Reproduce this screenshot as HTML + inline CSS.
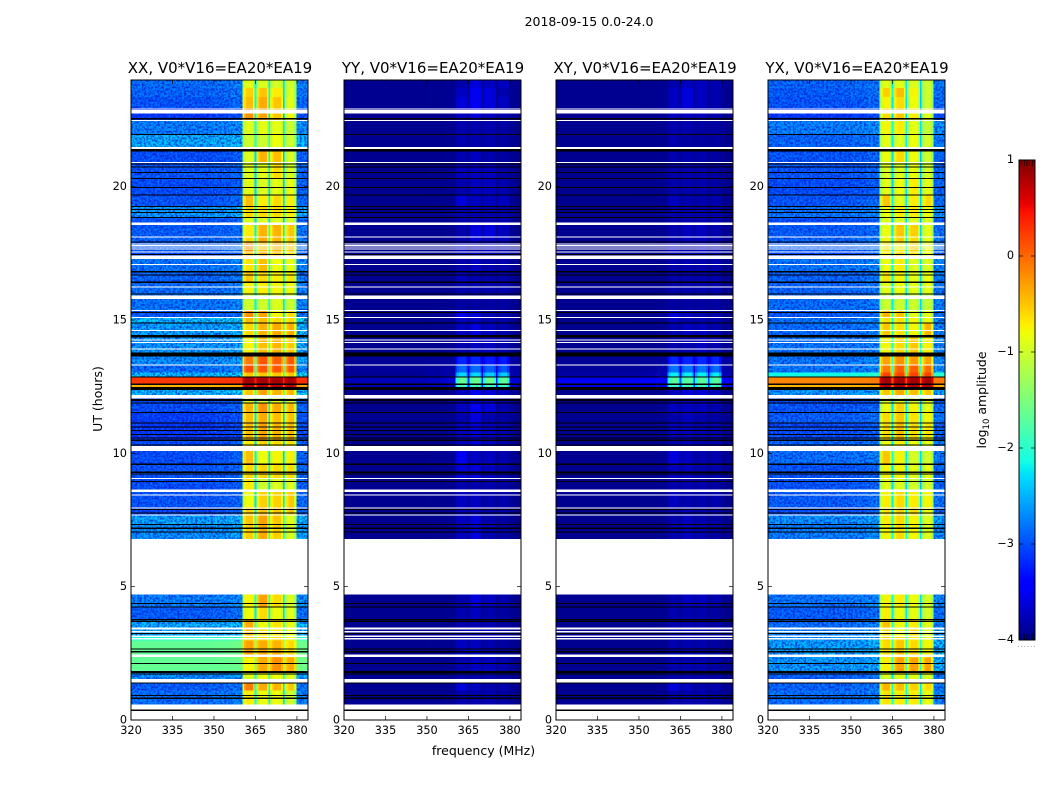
<!DOCTYPE html>
<html lang="en">
<head>
<meta charset="utf-8">
<title>2018-09-15 0.0-24.0</title>
<style>
html,body{margin:0;padding:0;background:#fff;}
svg{display:block;}
text{font-family:"DejaVu Sans","Liberation Sans",sans-serif;fill:#000;}
.tk{font-size:11.3px;}
.ttl{font-size:15px;text-anchor:middle;}
.lbl{font-size:12.5px;text-anchor:middle;}
</style>
</head>
<body>
<svg id="chart" xmlns="http://www.w3.org/2000/svg" width="1050" height="800" viewBox="0 0 1050 800">
<defs>
<filter id="grainLight" x="0" y="0" width="1" height="1" color-interpolation-filters="sRGB">
<feTurbulence type="fractalNoise" baseFrequency="0.42" numOctaves="2" seed="3"/>
<feColorMatrix values="0 0 0 0 0  0 0 0 0 .68  0 0 0 0 1  3 0 0 0 -1.4"/>
</filter>
<filter id="grainDark" x="0" y="0" width="1" height="1" color-interpolation-filters="sRGB">
<feTurbulence type="fractalNoise" baseFrequency="0.45" numOctaves="2" seed="11"/>
<feColorMatrix values="0 0 0 0 0  0 0 0 0 .06  0 0 0 0 .82  3 0 0 0 -1.15"/>
</filter>
<clipPath id="grainClip0"></clipPath>
<clipPath id="grainClip3"></clipPath>
</defs>
<text class="lbl" x="589" y="26">2018-09-15 0.0-24.0</text>
<text class="lbl" transform="translate(102,399) rotate(-90)">UT (hours)</text>
<text class="lbl" x="483.5" y="755">frequency (MHz)</text>
<text class="lbl" transform="translate(986,400) rotate(-90)">log<tspan font-size="8.5" dy="3">10</tspan><tspan dy="-3"> amplitude</tspan></text>
<g id="panels"></g>
<g id="colorbar"></g>
</svg>
<script>
// Time bands (UT hours, descending); band i spans bandEdges[i]..bandEdges[i+1]
const bandEdges = [24,23.70,23.36,22.95,22.57,22.46,21.97,21.49,20.89,20.32,19.68,19.23,18.86,18.56,18.11,17.92,17.55,17.28,16.80,16.43,15.97,15.37,15.07,14.88,14.39,13.79,13.31,13.04,12.86,12.59,12.48,12.18,11.88,11.54,11.13,10.49,10.08,9.59,9.07,8.65,7.98,7.68,7.34,6.78,4.71,4.23,3.74,3.47,3.17,2.99,2.35,1.79,1.41,1.11,0.59,0.02,0];

// Frequency channels (MHz); channel j spans freqEdges[j]..freqEdges[j+1]
const freqEdges = [320,350,356,360.3,360.9,361.5,364.2,364.7,365.3,365.8,366.5,369.2,369.8,370.3,370.9,371.5,374.2,374.9,375.5,376.2,376.9,379,379.9,384];
const channelBlock = [0,0,0,0,0,0,0,0,1,1,1,1,2,2,2,2,2,3,3,3,3,3,3];
const channelWeight = [0,.02,.05,.75,.92,1,.85,.3,.8,.93,1,.85,.3,.8,.93,1,.85,.25,.8,.93,1,.8,.06];

// log10 amplitude per band: [off-band background, block 1, block 2, block 3, block 4]
const xxLevels = [
[-2.75,-.85,-.9,-.95,-.95],[-2.8,-.55,-.5,-.7,-.9],[-2.9,-.45,-.35,-.5,-.85],[-3.1,-.2,-.3,-.5,-.75],[-3.1,-.2,-.3,-.5,-.75],
[-2.65,-.9,-.85,-.85,-1],[-2.4,-1,-1,-.8,-1],[-2.95,-.9,-.4,-.45,-.9],[-2.9,-.9,-.85,-.6,-.9],[-2.95,-.85,-.9,-.85,-.8],
[-2.9,-.45,-.7,-.6,-.7],[-2.5,-.6,-.6,-.6,-.7],[-2.9,-.9,-.9,-.9,-.9],[-2.85,-.7,-.4,-.4,-.5],[-2.8,-.6,-.35,-.4,-.5],
[-2.85,-.25,-.5,-.4,-.5],[-3,-.5,-.35,-.5,-.6],[-2.7,-.65,-.45,-.8,-.8],[-2.8,-.5,-.6,-.7,-.65],[-2.75,-.75,-.7,-.75,-.75],
[-2.7,-1,-1,-.9,-1],[-2.85,-.2,-.3,-.75,-.6],[-2.3,-.45,-.45,-.6,-.6],[-2.45,-.6,-.4,-.35,-.35],[-2.5,-.75,-.45,-.4,-.5],
[-2.55,-.1,.1,.05,.1],[-2.75,.15,.1,.1,.1],[-2.3,-.5,-.5,-.5,-.5],[.25,.85,.85,.85,.85],[-.4,.75,.75,.75,.75],
[-2.35,-.5,-.3,-.4,-.4],[-3,-.9,-.9,-.9,-.9],[-2.95,-.4,-.2,-.35,-.4],[-3.05,-.45,-.35,-.45,-.45],[-3.1,-.45,-.3,-.4,-.4],
[-2.95,-.7,-.55,-.6,-.6],[-2.95,-.45,-.8,-.75,-.7],[-2.9,-.6,-.55,-.6,-.6],[-2.95,-.7,-1,-.9,-.85],[-2.9,-.8,-.55,-.55,-.5],
[-3,-.55,-.45,-.5,-.45],[-2.45,-.5,-.3,-.5,-.85],[-2.55,-.55,-.35,-.55,-.9],null,[-2.65,-.75,-.3,-.6,-.9],
[-2.85,-.8,-.6,-.8,-.85],[-2.4,-.35,-.8,-.65,-.8],[-2.4,-.4,-.6,-.7,-.8],[-2.05,-.6,-.6,-.6,-.8],[-1.65,-.3,-.35,-.4,-.6],
[-1.65,-.75,-.35,-.2,-.35],[-2.55,-.9,-.8,-.8,-.85],[-2.85,-.1,-.35,-.4,-.5],[-2.75,-.7,-.8,-.8,-.95],null,[-2.9,-2.9,-2.9,-2.9,-2.9]
];
const yyLevels = [
[-3.93,-3.8,-3.6,-3.72,-3.72],[-3.93,-3.72,-3.5,-3.6,-3.8],[-3.93,-3.6,-3.5,-3.6,-3.72],[-3.93,-3.72,-3.6,-3.72,-3.8],[-3.93,-3.72,-3.6,-3.72,-3.8],
[-3.93,-3.8,-3.8,-3.8,-3.85],[-3.93,-3.8,-3.8,-3.8,-3.85],[-3.93,-3.8,-3.72,-3.8,-3.85],[-3.93,-3.72,-3.72,-3.72,-3.85],[-3.93,-3.8,-3.72,-3.72,-3.8],
[-3.93,-3.6,-3.72,-3.72,-3.72],[-3.93,-3.8,-3.8,-3.8,-3.8],[-3.93,-3.8,-3.8,-3.8,-3.8],[-3.93,-3.8,-3.6,-3.6,-3.72],[-3.93,-3.8,-3.6,-3.72,-3.72],
[-3.93,-3.72,-3.8,-3.72,-3.8],[-3.93,-3.8,-3.72,-3.8,-3.8],[-3.93,-3.8,-3.72,-3.8,-3.8],[-3.93,-3.72,-3.8,-3.8,-3.8],[-3.93,-3.8,-3.8,-3.8,-3.8],
[-3.93,-3.85,-3.85,-3.85,-3.85],[-3.93,-3.5,-3.6,-3.8,-3.8],[-3.93,-3.72,-3.72,-3.8,-3.8],[-3.93,-3.72,-3.6,-3.72,-3.8],[-3.93,-3.8,-3.72,-3.72,-3.8],
[-3.9,-3.2,-3.2,-3.25,-3.25],[-3.88,-2.85,-2.85,-2.9,-2.95],[-3.9,-2.3,-2.3,-2.35,-2.35],[-3.75,-1.6,-1.6,-1.6,-1.65],[-3.8,-1.85,-1.85,-1.85,-1.85],
[-3.93,-3.72,-3.5,-3.6,-3.72],[-3.93,-3.8,-3.6,-3.72,-3.8],[-3.93,-3.72,-3.5,-3.6,-3.8],[-3.93,-3.8,-3.6,-3.8,-3.85],[-3.93,-3.72,-3.6,-3.72,-3.8],
[-3.93,-3.72,-3.6,-3.72,-3.8],[-3.93,-3.5,-3.72,-3.72,-3.8],[-3.93,-3.6,-3.6,-3.72,-3.8],[-3.93,-3.8,-3.8,-3.8,-3.85],[-3.93,-3.72,-3.72,-3.8,-3.8],
[-3.93,-3.72,-3.72,-3.8,-3.8],[-3.93,-3.72,-3.6,-3.8,-3.85],[-3.93,-3.72,-3.6,-3.8,-3.85],null,[-3.93,-3.8,-3.6,-3.72,-3.8],
[-3.93,-3.8,-3.72,-3.8,-3.85],[-3.93,-3.8,-3.8,-3.8,-3.85],[-3.93,-3.8,-3.8,-3.8,-3.85],[-3.93,-3.8,-3.8,-3.8,-3.85],[-3.93,-3.72,-3.72,-3.8,-3.85],
[-3.93,-3.8,-3.72,-3.72,-3.8],[-3.93,-3.8,-3.8,-3.8,-3.85],[-3.93,-3.6,-3.72,-3.8,-3.8],[-3.93,-3.8,-3.8,-3.8,-3.85],null,[-3.93,-3.93,-3.93,-3.93,-3.93]
];
const xyLevels = [
[-3.93,-3.8,-3.72,-3.72,-3.8],[-3.93,-3.72,-3.6,-3.72,-3.8],[-3.93,-3.72,-3.6,-3.72,-3.8],[-3.93,-3.72,-3.72,-3.72,-3.8],[-3.93,-3.72,-3.72,-3.72,-3.8],
[-3.93,-3.8,-3.8,-3.85,-3.85],[-3.93,-3.8,-3.85,-3.85,-3.85],[-3.93,-3.8,-3.8,-3.8,-3.85],[-3.93,-3.8,-3.8,-3.8,-3.85],[-3.93,-3.8,-3.8,-3.8,-3.85],
[-3.93,-3.72,-3.8,-3.8,-3.8],[-3.93,-3.8,-3.8,-3.8,-3.8],[-3.93,-3.8,-3.8,-3.8,-3.8],[-3.93,-3.8,-3.72,-3.72,-3.8],[-3.93,-3.8,-3.72,-3.72,-3.8],
[-3.93,-3.72,-3.8,-3.72,-3.8],[-3.93,-3.8,-3.72,-3.8,-3.8],[-3.93,-3.8,-3.8,-3.8,-3.8],[-3.93,-3.8,-3.8,-3.8,-3.8],[-3.93,-3.8,-3.8,-3.8,-3.8],
[-3.93,-3.85,-3.85,-3.85,-3.85],[-3.93,-3.6,-3.72,-3.8,-3.8],[-3.93,-3.72,-3.8,-3.8,-3.8],[-3.93,-3.8,-3.72,-3.72,-3.8],[-3.93,-3.8,-3.8,-3.72,-3.8],
[-3.9,-3.2,-3.2,-3.2,-3.2],[-3.88,-2.8,-2.8,-2.8,-2.85],[-3.85,-2.2,-2.2,-2.2,-2.2],[-3.5,-1.7,-1.7,-1.7,-1.7],[-3.6,-1.85,-1.85,-1.85,-1.85],
[-3.93,-3.72,-3.6,-3.6,-3.72],[-3.93,-3.8,-3.72,-3.72,-3.8],[-3.93,-3.72,-3.72,-3.72,-3.8],[-3.93,-3.8,-3.72,-3.8,-3.85],[-3.93,-3.72,-3.72,-3.8,-3.8],
[-3.93,-3.8,-3.72,-3.8,-3.8],[-3.93,-3.6,-3.72,-3.8,-3.8],[-3.93,-3.72,-3.72,-3.8,-3.8],[-3.93,-3.8,-3.8,-3.8,-3.85],[-3.93,-3.72,-3.8,-3.8,-3.8],
[-3.93,-3.8,-3.72,-3.8,-3.8],[-3.93,-3.8,-3.72,-3.8,-3.85],[-3.93,-3.8,-3.72,-3.8,-3.85],null,[-3.93,-3.8,-3.72,-3.72,-3.8],
[-3.93,-3.8,-3.8,-3.8,-3.85],[-3.93,-3.8,-3.8,-3.8,-3.85],[-3.93,-3.8,-3.8,-3.8,-3.85],[-3.93,-3.8,-3.8,-3.8,-3.85],[-3.93,-3.8,-3.8,-3.8,-3.85],
[-3.93,-3.8,-3.8,-3.8,-3.85],[-3.93,-3.8,-3.8,-3.8,-3.85],[-3.93,-3.6,-3.72,-3.8,-3.8],[-3.93,-3.8,-3.8,-3.8,-3.85],null,[-3.93,-3.93,-3.93,-3.93,-3.93]
];
const yxLevels = [
[-2.8,-.85,-.85,-.9,-1],[-2.85,-.55,-.45,-.75,-1],[-2.9,-.75,-.6,-.8,-1],[-3.1,-.6,-.5,-.7,-.9],[-3.1,-.6,-.5,-.7,-.9],
[-2.65,-.75,-.7,-.85,-1.05],[-2.8,-.85,-.9,-.8,-.95],[-2.9,-.8,-.6,-.8,-1],[-2.9,-.9,-.9,-.8,-.95],[-2.95,-.85,-.8,-.7,-.85],
[-2.9,-.5,-.85,-.7,-.6],[-2.7,-.8,-.7,-.7,-.8],[-2.95,-.9,-.9,-.9,-.9],[-2.85,-.8,-.5,-.55,-.85],[-2.8,-.75,-.55,-.6,-.85],
[-2.85,-.65,-.7,-.55,-.8],[-3,-.7,-.55,-.7,-.8],[-2.7,-.8,-.7,-.9,-.9],[-2.8,-.65,-.75,-.85,-.8],[-2.8,-.85,-.8,-.85,-.85],
[-2.75,-1,-1,-1,-1.05],[-2.85,-.4,-.5,-.85,-.85],[-2.7,-.65,-.65,-.75,-.8],[-2.75,-.5,-.65,-.75,-.4],[-2.7,-.75,-.6,-.5,-.7],
[-2.7,-.3,-.2,-.25,-.3],[-2.7,-.1,.05,.05,0],[-2.15,.2,.2,.2,.2],[-.15,.85,.85,.85,.85],[-.4,.8,.8,.8,.8],
[-2.5,-.5,-.35,-.45,-.5],[-3,-.9,-.9,-.9,-.9],[-2.9,-.8,-.55,-.75,-.85],[-2.85,-.6,-.5,-.65,-.75],[-2.95,-.6,-.45,-.6,-.65],
[-2.8,-.8,-.7,-.8,-.85],[-2.75,-.5,-.75,-.95,-.95],[-2.9,-.75,-.75,-.85,-.85],[-2.9,-.85,-.9,-.95,-.95],[-2.85,-.7,-.6,-.7,-.75],
[-2.95,-.65,-.55,-.6,-.8],[-2.55,-.7,-.6,-.75,-.9],[-2.65,-.75,-.6,-.75,-.9],null,[-2.7,-.75,-.7,-.8,-.95],
[-2.85,-.7,-.8,-.85,-.95],[-2.75,-.45,-.8,-.7,-.85],[-2.6,-.6,-.8,-.6,-.9],[-2.5,-.5,-.6,-.7,-.8],[-2.45,-.6,-.5,-.6,-.75],
[-2.5,-.7,-.3,-.3,-.3],[-2.8,-.9,-.85,-.85,-.9],[-2.8,-.4,-.45,-.55,-.6],[-2.75,-.65,-.7,-.7,-.8],null,[-3,-3,-3,-3,-3]
];

// Flagged time ranges, [start hour, end hour]
const whiteGaps = [[22.93,22.90],[22.87,22.75],[22.50,22.46],[21.49,21.42],[20.92,20.89],[18.65,18.56],[18.13,18.10],[17.87,17.84],[17.81,17.77],[17.75,17.71],[17.69,17.65],[17.57,17.53],[17.41,17.29],[17.10,17.06],[16.25,16.21],[15.91,15.79],[15.38,15.34],[15.11,15.07],[14.63,14.59],[14.27,14.23],[14.17,14.13],[13.94,13.91],[13.34,13.31],[12.18,12.06],[10.28,10.09],[9.07,9.03],[8.64,8.55],[8.46,8.42],[7.97,7.93],[7.71,7.68],[6.78,4.71],[3.46,3.39],[3.34,3.28],[3.17,3.11],[3.07,3.02],[2.45,2.36],[1.53,1.41],[0.59,0.39],[0.33,0.02]];
const blackGaps = [[22.58,22.52],[21.97,21.94],[21.42,21.31],[20.86,20.83],[20.75,20.72],[20.55,20.51],[20.32,20.28],[19.99,19.95],[19.70,19.67],[19.27,19.24],[19.17,19.13],[19.05,19.01],[18.87,18.83],[17.95,17.91],[17.48,17.43],[16.83,16.79],[16.70,16.66],[16.44,16.38],[16.00,15.96],[15.30,15.26],[14.91,14.87],[14.43,14.35],[13.79,13.64],[12.88,12.85],[12.61,12.57],[12.48,12.37],[12.03,11.97],[11.91,11.87],[11.55,11.51],[11.16,11.12],[11.01,10.97],[10.88,10.85],[10.73,10.70],[10.60,10.57],[10.51,10.47],[10.33,10.30],[9.61,9.57],[9.31,9.27],[9.25,9.22],[8.97,8.93],[7.91,7.87],[7.78,7.74],[7.35,7.31],[7.21,7.17],[7.07,7.03],[4.38,4.35],[4.25,4.22],[3.78,3.74],[3.72,3.68],[3.26,3.22],[2.69,2.66],[2.58,2.54],[2.14,2.10],[1.83,1.76],[1.75,1.71],[1.41,1.37],[0.94,0.90],[0.84,0.78],[0.39,0.33]];

// Axis ticks and labels
const xTicks = [320,335,350,365,380];
const yTicks = [0,5,10,15,20];
const colorbarTicks = [1,0,-1,-2,-3,-4];
const panelTitles = ["XX, V0*V16=EA20*EA19","YY, V0*V16=EA20*EA19","XY, V0*V16=EA20*EA19","YX, V0*V16=EA20*EA19"];
const panelNames = ["xx","yy","xy","yx"];
const panelLevels = [xxLevels,yyLevels,xyLevels,yxLevels];

const NS = "http://www.w3.org/2000/svg";
const panelLeft = [131,344,556,768];
const panelW = 177, panelTop = 80, panelBottom = 720;
const fMin = 320, fMax = 384, hMin = 0, hMax = 24;
const vMin = -4, vMax = 1;

function xScale(f, left){ return left + (f - fMin) / (fMax - fMin) * panelW; }
function yScale(h){ return panelBottom - (h - hMin) / (hMax - hMin) * (panelBottom - panelTop); }
function seg(t, pts){
  for (let i = 1; i < pts.length; i++) {
    if (t <= pts[i][0]) {
      const a = pts[i-1], b = pts[i];
      return a[1] + (b[1]-a[1]) * (t-a[0]) / (b[0]-a[0]);
    }
  }
  return pts[pts.length-1][1];
}
function jet(v){
  const t = Math.max(0, Math.min(1, (v - vMin) / (vMax - vMin)));
  const r = seg(t, [[0,0],[.35,0],[.66,1],[.89,1],[1,.5]]);
  const g = seg(t, [[0,0],[.125,0],[.375,1],[.64,1],[.91,0],[1,0]]);
  const b = seg(t, [[0,.5],[.11,1],[.34,1],[.65,0],[1,0]]);
  return "rgb(" + Math.round(r*255) + "," + Math.round(g*255) + "," + Math.round(b*255) + ")";
}
function shape(tag, parent, attrs){
  const el = document.createElementNS(NS, tag);
  for (const k in attrs) el.setAttribute(k, attrs[k]);
  parent.appendChild(el);
  return el;
}

const panelsRoot = document.getElementById("panels");
panelLeft.forEach(function(left, p){
  const levels = panelLevels[p];
  const g = shape("g", panelsRoot, {});
  
  

  const cells = shape("g", g, {"shape-rendering":"crispEdges"});
  
  
  levels.forEach(function(row, i){
    if (!row) return;
    const y0 = yScale(bandEdges[i]), y1 = yScale(bandEdges[i+1]);
    channelWeight.forEach(function(w, j){
      const x0 = xScale(freqEdges[j], left), x1 = xScale(freqEdges[j+1], left);
      const v = row[0] * (1 - w) + row[channelBlock[j] + 1] * w;
      const cell = shape("rect", cells, {x:x0, y:y0, width:x1-x0, height:y1-y0, fill:jet(v)});
      
      
    });
  });

  // speckle texture over the off-band region, only on the noisy blue bands of XX and YX
  if (p === 0 || p === 3) {
    const clip = document.getElementById("grainClip" + p);
    levels.forEach(function(row, i){
      if (!row || row[0] > -2.2) return;
      const y0 = yScale(bandEdges[i]), y1 = yScale(bandEdges[i+1]);
      shape("rect", clip, {x:left, y:y0, width:xScale(360.3, left)-left, height:y1-y0});
      shape("rect", clip, {x:xScale(379.9, left), y:y0, width:xScale(fMax, left)-xScale(379.9, left), height:y1-y0});
    });
    const texture = shape("g", g, {"clip-path":"url(#grainClip" + p + ")"});
    
    
    const gy0 = yScale(hMax), gh = yScale(hMin) - gy0;
    const lightGrain = shape("rect", texture, {x:left, y:gy0, width:panelW, height:gh, filter:"url(#grainLight)", opacity:.45});
    
    
    const darkGrain = shape("rect", texture, {x:left, y:gy0, width:panelW, height:gh, filter:"url(#grainDark)", opacity:.7});
    
    
  }

  const gaps = shape("g", g, {"shape-rendering":"crispEdges"});
  
  
  whiteGaps.forEach(function(r){
    const y0 = yScale(r[0]), y1 = yScale(r[1]);
    const el = shape("rect", gaps, {x:left, y:y0, width:panelW, height:Math.max(1,y1-y0), fill:"#fff"});
    
    
  });
  blackGaps.forEach(function(r){
    const y0 = yScale(r[0]), y1 = yScale(r[1]);
    const el = shape("rect", gaps, {x:left, y:y0, width:panelW, height:Math.max(1,y1-y0), fill:"#000"});
    
    
  });

  const frame = shape("rect", g, {x:left, y:panelTop, width:panelW, height:panelBottom-panelTop, fill:"none", stroke:"#000", "stroke-width":1});
  
  

  xTicks.forEach(function(f){
    const x = xScale(f, left);
    const b = shape("line", g, {x1:x, x2:x, y1:panelBottom, y2:panelBottom-4, stroke:"#000", "stroke-width":.7});
    
    
    const t = shape("line", g, {x1:x, x2:x, y1:panelTop, y2:panelTop+4, stroke:"#000", "stroke-width":.7});
    
    
    const lab = shape("text", g, {x:x, y:panelBottom+14, "text-anchor":"middle", "class":"tk"});
    
    
    lab.textContent = f;
  });
  yTicks.forEach(function(h){
    const y = yScale(h);
    const l = shape("line", g, {x1:left, x2:left+4, y1:y, y2:y, stroke:"#000", "stroke-width":.7});
    
    
    const r = shape("line", g, {x1:left+panelW, x2:left+panelW-4, y1:y, y2:y, stroke:"#000", "stroke-width":.7});
    
    
    const lab = shape("text", g, {x:left-4, y:y+3.5, "text-anchor":"end", "class":"tk"});
    
    
    lab.textContent = h;
  });
  const title = shape("text", g, {x:left+panelW/2+0.5, y:panelTop-7, "class":"ttl"});
  
  
  title.textContent = panelTitles[p];
});

// Colorbar
const cb = document.getElementById("colorbar");
const cbX = 1019, cbW = 16, cbTop = 160, cbBottom = 640;
function cbScale(v){ return cbBottom - (v - vMin) / (vMax - vMin) * (cbBottom - cbTop); }
const cbSteps = 240;
for (let i = 0; i < cbSteps; i++) {
  const v0 = vMin + (vMax - vMin) * i / cbSteps;
  const v1 = vMin + (vMax - vMin) * (i + 1) / cbSteps;
  const seg2 = shape("rect", cb, {x:cbX, y:cbScale(v1), width:cbW, height:cbScale(v0)-cbScale(v1)+.5, fill:jet((v0+v1)/2), "shape-rendering":"crispEdges"});
  
  
}
const cbFrame = shape("rect", cb, {x:cbX, y:cbTop, width:cbW, height:cbBottom-cbTop, fill:"none", stroke:"#000", "stroke-width":1});


colorbarTicks.forEach(function(v){
  const y = cbScale(v);
  [[cbX,cbX+4],[cbX+cbW,cbX+cbW-4]].forEach(function(s){
    const t = shape("line", cb, {x1:s[0], x2:s[1], y1:y, y2:y, stroke:"#000", "stroke-width":.7});
    
    
  });
  const lab = shape("text", cb, {x:cbX-5, y:y+3, "text-anchor":"end", "class":"tk"});
  
  
  lab.textContent = String(v).replace("-", "\u2212");
});
[cbTop, cbBottom].forEach(function(edge, k){
  for (let n = 1; n <= 5; n++) {
    const x = cbX + n * cbW / 6;
    const m = shape("line", cb, {x1:x, x2:x, y1:edge, y2:k ? edge-6 : edge+6, stroke:"#000", "stroke-width":.6});
    
    
  }
});
for (let n = 0; n < 6; n++) {
  const dot = shape("rect", cb, {x:1018 + n * 3.2, y:646, width:1, height:1, fill:"#aaa"});
  
  
}
</script>
</body>
</html>
